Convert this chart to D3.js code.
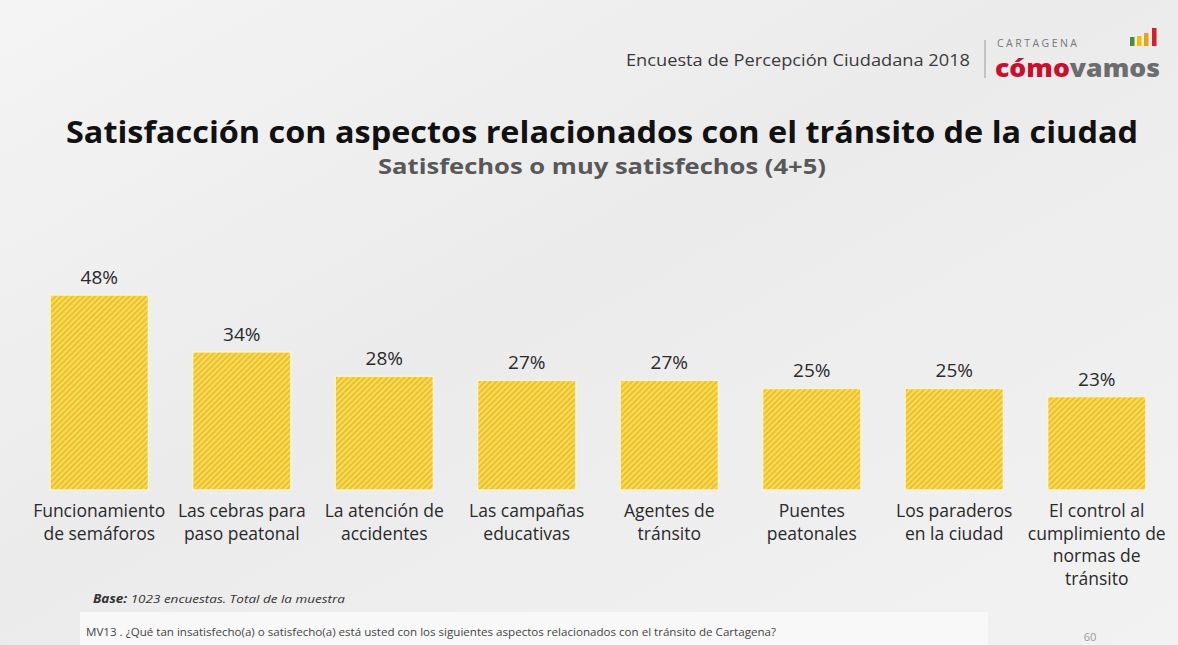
<!DOCTYPE html>
<html>
<head>
<meta charset="utf-8">
<script src="https://cdn.jsdelivr.net/npm/d3@7"></script>
<style>
html,body{margin:0;padding:0;background:#efefef;}
svg{display:block;}
text{font-family:"Open Sans",Lato,sans-serif;}
</style>
</head>
<body>
<svg id="chart" width="1178" height="645"></svg>
<script>
const categories = [
  ["Funcionamiento","de semáforos"],
  ["Las cebras para","paso peatonal"],
  ["La atención de","accidentes"],
  ["Las campañas","educativas"],
  ["Agentes de","tránsito"],
  ["Puentes","peatonales"],
  ["Los paraderos","en la ciudad"],
  ["El control al","cumplimiento de","normas de","tránsito"]
];
const values = [48, 34, 28, 27, 27, 25, 25, 23];
const valueLabels = ["48%","34%","28%","27%","27%","25%","25%","23%"];

const W = 1178, H = 645;
const svg = d3.select("#chart");
const defs = svg.append("defs");

// background
const bg = defs.append("linearGradient").attr("id","bg").attr("x1","0").attr("y1","0").attr("x2","1").attr("y2","1");
bg.append("stop").attr("offset","0").attr("stop-color","#f4f4f4");
bg.append("stop").attr("offset","0.45").attr("stop-color","#ebebeb");
bg.append("stop").attr("offset","1").attr("stop-color","#f2f2f2");
svg.append("rect").attr("width",W).attr("height",H).attr("fill","url(#bg)");

// hatch pattern
const pat = defs.append("pattern").attr("id","hatch").attr("patternUnits","userSpaceOnUse")
  .attr("width",4).attr("height",4).attr("patternTransform","rotate(45)");
pat.append("rect").attr("width",4).attr("height",4).attr("fill","#f9dc55");
pat.append("rect").attr("width",1.7).attr("height",4).attr("fill","#e8bb2a");

// header
svg.append("text").attr("x",626).attr("y",66)
  .attr("font-size",16).attr("fill","#3a3a3a").attr("textLength",344).attr("lengthAdjust","spacingAndGlyphs")
  .text("Encuesta de Percepción Ciudadana 2018");
svg.append("line").attr("x1",985).attr("x2",985).attr("y1",40).attr("y2",78)
  .attr("stroke","#9a9a9a").attr("stroke-width",1);
svg.append("text").attr("x",997).attr("y",47).attr("font-size",10.5).attr("fill","#777")
  .attr("textLength",80).attr("lengthAdjust","spacing").text("CARTAGENA");
const logo = svg.append("text").attr("x",995).attr("y",77).attr("font-size",25).attr("font-weight",800)
  .attr("textLength",165).attr("lengthAdjust","spacingAndGlyphs");
logo.append("tspan").attr("fill","#c8102e").text("cómo");
logo.append("tspan").attr("fill","#6d6d6d").text("vamos");
const icon = [[1130,37,9,"#4f8a3c"],[1137,36,10,"#f2c200"],[1144,33,13,"#e8a21e"],[1152,28,18,"#d3202a"]];
svg.append("g").selectAll("rect").data(icon).join("rect")
  .attr("x",d=>d[0]).attr("y",d=>d[1]).attr("width",4.5).attr("height",d=>d[2]).attr("fill",d=>d[3]);

// titles
svg.append("text").attr("x",66).attr("y",143)
  .attr("font-size",30).attr("font-weight",700).attr("fill","#111")
  .attr("textLength",1072).attr("lengthAdjust","spacingAndGlyphs")
  .text("Satisfacción con aspectos relacionados con el tránsito de la ciudad");
svg.append("text").attr("x",378).attr("y",174)
  .attr("font-size",22).attr("font-weight",700).attr("fill","#585858")
  .attr("textLength",448).attr("lengthAdjust","spacingAndGlyphs")
  .text("Satisfechos o muy satisfechos (4+5)");

// scales
const x = d3.scaleBand().domain(d3.range(values.length)).range([28,1168]).paddingInner(0.31).paddingOuter(0.155);
const y = d3.scaleLinear().domain([0,48]).range([490,295]);

const g = svg.append("g");
g.selectAll("rect.bar").data(values).join("rect").attr("class","bar")
  .attr("x",(d,i)=>x(i)).attr("y",d=>y(d)).attr("width",x.bandwidth()).attr("height",d=>y(0)-y(d))
  .attr("fill","url(#hatch)").attr("stroke","#fbf3d6").attr("stroke-width",1.5);

g.selectAll("text.val").data(values).join("text").attr("class","val")
  .attr("x",(d,i)=>x(i)+x.bandwidth()/2).attr("y",d=>y(d)-11).attr("text-anchor","middle")
  .attr("font-size",19).attr("fill","#2a2a2a").text((d,i)=>valueLabels[i]);

const labs = g.selectAll("text.cat").data(categories).join("text").attr("class","cat")
  .attr("x",(d,i)=>x(i)+x.bandwidth()/2).attr("y",517).attr("text-anchor","middle")
  .attr("font-size",17.5).attr("fill","#2a2a2a");
labs.selectAll("tspan").data(d=>d).join("tspan")
  .attr("x",function(){return this.parentNode.getAttribute("x");})
  .attr("dy",(d,j)=>j===0?0:22.5).text(d=>d);

// footer
const base = svg.append("text").attr("x",93).attr("y",603).attr("font-size",11.5).attr("font-style","italic").attr("fill","#333")
  .attr("textLength",252).attr("lengthAdjust","spacingAndGlyphs");
base.append("tspan").attr("font-weight",700).text("Base:");
base.append("tspan").text(" 1023 encuestas. Total de la muestra");
svg.append("rect").attr("x",80).attr("y",612).attr("width",908).attr("height",33).attr("fill","#f8f8f8");
svg.append("text").attr("x",86).attr("y",636).attr("font-size",10).attr("fill","#444")
  .attr("textLength",690).attr("lengthAdjust","spacingAndGlyphs")
  .text("MV13 . ¿Qué tan insatisfecho(a) o satisfecho(a) está usted con los siguientes aspectos relacionados con el tránsito de Cartagena?");
svg.append("text").attr("x",1090).attr("y",641).attr("text-anchor","middle").attr("font-size",11).attr("fill","#999").text("60");
</script>
</body>
</html>
